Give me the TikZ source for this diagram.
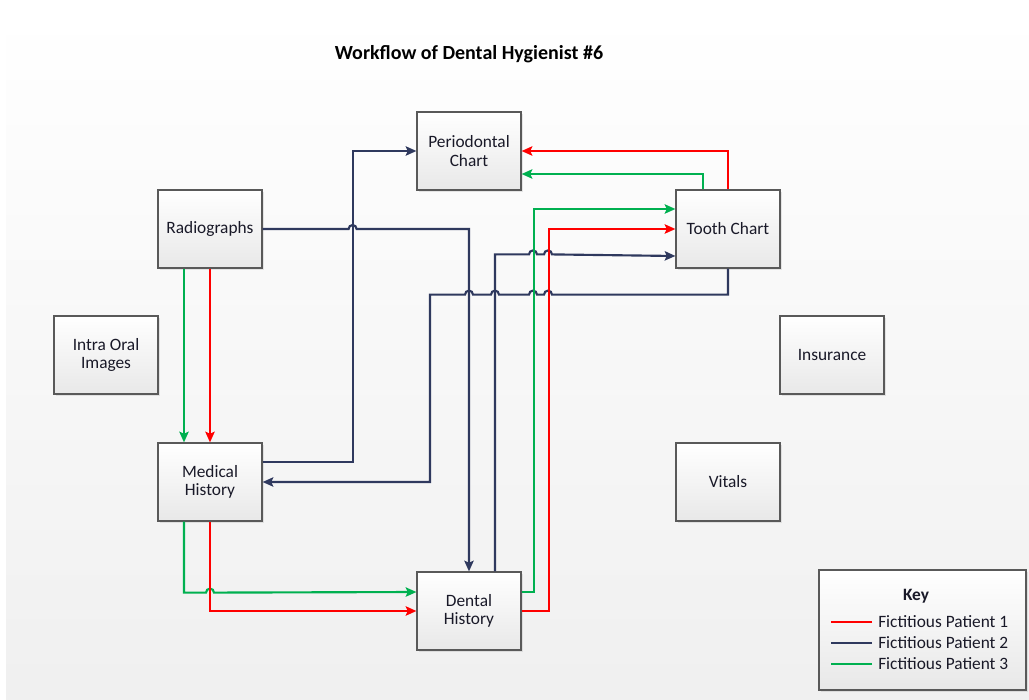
\documentclass[tikz,border=0pt]{standalone}
\usepackage{fontspec}
\setmainfont{Carlito}
\usetikzlibrary{arrows.meta,shadows,positioning}

\definecolor{pat1}{RGB}{255,0,0}
\definecolor{pat2}{RGB}{47,57,94}
\definecolor{pat3}{RGB}{0,176,80}
\definecolor{boxline}{RGB}{89,89,89}
\definecolor{boxtext}{RGB}{25,25,40}

\begin{document}
\begin{tikzpicture}[x=0.75pt, y=-0.75pt,
    node distance=189.75pt,
    box/.style={draw=boxline, line width=0.9pt, top color=white, bottom color=black!9,
        minimum width=78pt, minimum height=58.5pt, align=center, inner sep=2pt,
        text=boxtext, font=\fontsize{13}{14}\selectfont,
        drop shadow={shadow xshift=1.5pt, shadow yshift=-1.5pt, opacity=0.18}},
    flow/.style={line width=1.6pt, -{Stealth[length=8pt, width=7pt, inset=1.5pt]}},
    keytext/.style={anchor=west, inner sep=0pt, text=boxtext, font=\fontsize{13}{14}\selectfont},
    keyline/.style={line width=1.6pt}]

    \useasboundingbox (0,0) rectangle (1029,700);
    % the page behind the chart
    \fill[top color=white, bottom color=black!6] (6,12) rectangle (1029,700);

    \node[font=\bfseries\fontsize{15}{17}\selectfont] (00) at (469,54) {Workflow of Dental Hygienist \#6};

    \node[box] (01) at (469,151) {Periodontal\\Chart};
    \node[box] (02) at (210,229) {Radiographs};
    \node[box] (03) at (728,229) {Tooth Chart};
    \node[box] (04) at (106,355) {Intra Oral\\Images};
    \node[box] (05) at (832,355) {Insurance};
    \node[box] (06) [below of=02] {Medical\\History};
    \node[box] (07) [below of=03] {Vitals};
    \node[box] (08) at (469,611) {Dental\\History};

    % key
    \node[box, minimum width=155.25pt, minimum height=90pt] (09) at (922.5,630) {};
    \node[font=\bfseries\fontsize{13}{14}\selectfont, text=boxtext] (key) at (916,596) {Key};
    \node[keytext] (10) at (878,622) {Fictitious Patient 1};
    \node[keytext] (11) at (878,643) {Fictitious Patient 2};
    \node[keytext] (12) at (878,664) {Fictitious Patient 3};
    \draw[keyline, pat1] (10.west) ++(-6,0) -- ++(-41,0);
    \draw[keyline, pat2] (11.west) ++(-6,0) -- ++(-41,0);
    \draw[keyline, pat3] (12.west) ++(-6,0) -- ++(-41,0);

    % patient 2
    \draw[flow, pat2] (02.east) -- ++(86,0) arc[start angle=180, end angle=0, radius=3pt] -| (08.north);
    \draw[flow, pat2] ([yshift=15pt]06.east) -- ++(90,0) |- (01.west);
    \draw[flow, pat2] (03.south) -- ++(0,26) -- ++(-176,0) arc[start angle=0, end angle=180, radius=3pt]
        -- ++(-7,0) arc[start angle=0, end angle=180, radius=3pt]
        -- ++(-30,0) arc[start angle=0, end angle=180, radius=3pt]
        -- ++(-18,0) arc[start angle=0, end angle=180, radius=3pt]
        -- ++(-35,0) |- (06.east);
    \draw[flow, pat2] ([xshift=19.5pt]08.north) -- ++(0,-317) -- ++(34,0) arc[start angle=180, end angle=0, radius=3pt]
        -- ++(7,0) arc[start angle=180, end angle=0, radius=3pt] -- ([yshift=-20.25pt]03.west);

    % patient 3
    \draw[flow, pat3] ([xshift=-19.5pt]02.south) -- ([xshift=-19.5pt]06.north);
    \draw[flow, pat3] ([xshift=-19.5pt]06.south) -- ++(0,71) -- ++(22,0) arc[start angle=180, end angle=0, radius=3pt]
        -- ([yshift=14.25pt]08.west);
    \draw[flow, pat3] ([yshift=14.25pt]08.east) -- ++(12,0) |- ([yshift=15pt]03.west);
    \draw[flow, pat3] ([xshift=-18.75pt]03.north) |- ([yshift=-17.25pt]01.east);

    % patient 1
    \draw[flow, pat1] (02.south) -- (06.north);
    \draw[flow, pat1] (06.south) |- (08.west);
    \draw[flow, pat1] (08.east) -- ++(27,0) |- (03.west);
    \draw[flow, pat1] (03.north) |- (01.east);
\end{tikzpicture}
\end{document}
